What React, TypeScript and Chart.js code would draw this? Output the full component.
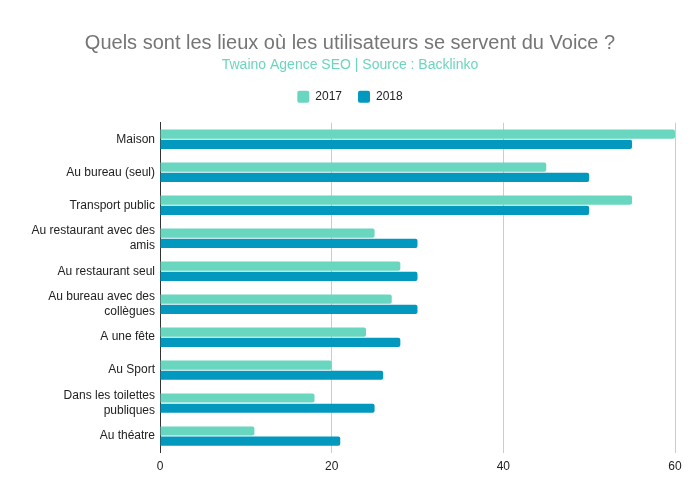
import React, { useEffect, useRef } from "react";
import { Chart, registerables } from "chart.js";

Chart.register(...registerables);

const categories: (string | string[])[] = [
  "Maison",
  "Au bureau (seul)",
  "Transport public",
  ["Au restaurant avec des", "amis"],
  "Au restaurant seul",
  ["Au bureau avec des", "collègues"],
  "A une fête",
  "Au Sport",
  ["Dans les toilettes", "publiques"],
  "Au théatre",
];
const values2017 = [60, 45, 55, 25, 28, 27, 24, 20, 18, 11];
const values2018 = [55, 50, 50, 30, 30, 30, 28, 26, 25, 21];
const xTicks = [0, 20, 40, 60];

const FONT = "'Liberation Sans', Arial, sans-serif";

const legendMargin = {
  id: "legendMargin",
  beforeInit(chart: any) {
    const orig = chart.legend.fit;
    chart.legend.fit = function () {
      orig.bind(chart.legend)();
      this.height += 10;
    };
  },
};

export default function App() {
  const ref = useRef<HTMLCanvasElement>(null);
  useEffect(() => {
    document.body.style.margin = "0";
    const ctx = ref.current!.getContext("2d")!;
    const chart = new Chart(ctx, {
      type: "bar",
      plugins: [legendMargin],
      data: {
        labels: categories,
        datasets: [
          {
            label: "2017",
            data: values2017,
            backgroundColor: "#69d6bf",
            borderRadius: 2,
            borderSkipped: "start",
            barPercentage: 0.9,
            categoryPercentage: 0.62,
          },
          {
            label: "2018",
            data: values2018,
            backgroundColor: "#0399bf",
            borderRadius: 2,
            borderSkipped: "start",
            barPercentage: 0.9,
            categoryPercentage: 0.62,
          },
        ],
      },
      options: {
        indexAxis: "y",
        animation: false,
        responsive: false,
        maintainAspectRatio: false,
        layout: { padding: { left: 0, right: 0, top: 0, bottom: 17 } },
        plugins: {
          title: {
            display: true,
            text: "Quels sont les lieux où les utilisateurs se servent du Voice ?",
            color: "#757575",
            font: { family: FONT, size: 20, weight: "normal" },
            padding: { top: 31, bottom: 2 },
          },
          subtitle: {
            display: true,
            text: "Twaino Agence SEO | Source : Backlinko",
            color: "#6ad6be",
            font: { family: FONT, size: 14, weight: "normal" },
            padding: { top: 0, bottom: 1 },
          },
          legend: {
            display: true,
            position: "top",
            labels: {
              color: "#222",
              font: { family: FONT, size: 12 },
              boxWidth: 12,
              boxHeight: 12,
              padding: 16,
              useBorderRadius: true,
              borderRadius: 2,
            },
          },
          tooltip: { enabled: false },
        },
        scales: {
          x: {
            min: 0,
            max: 60,
            afterBuildTicks: (scale: any) => {
              scale.ticks = xTicks.map((v) => ({ value: v }));
            },
            afterFit: (scale: any) => {
              scale.paddingRight = 25;
            },
            grid: { color: "#cccccc", drawTicks: false },
            border: { display: false },
            ticks: {
              color: "#222",
              font: { family: FONT, size: 12 },
              padding: 7,
            },
          },
          y: {
            grid: { display: false, drawTicks: false },
            border: { display: true, color: "#333", width: 1 },
            afterFit: (scale: any) => {
              scale.width = 160;
            },
            ticks: {
              color: "#222",
              font: { family: FONT, size: 12 },
              padding: 5,
            },
          },
        },
      },
    });
    return () => chart.destroy();
  }, []);
  return (
    <div style={{ width: 700, height: 498, background: "#fff" }}>
      <canvas ref={ref} width={700} height={498} style={{ display: "block" }} />
    </div>
  );
}
